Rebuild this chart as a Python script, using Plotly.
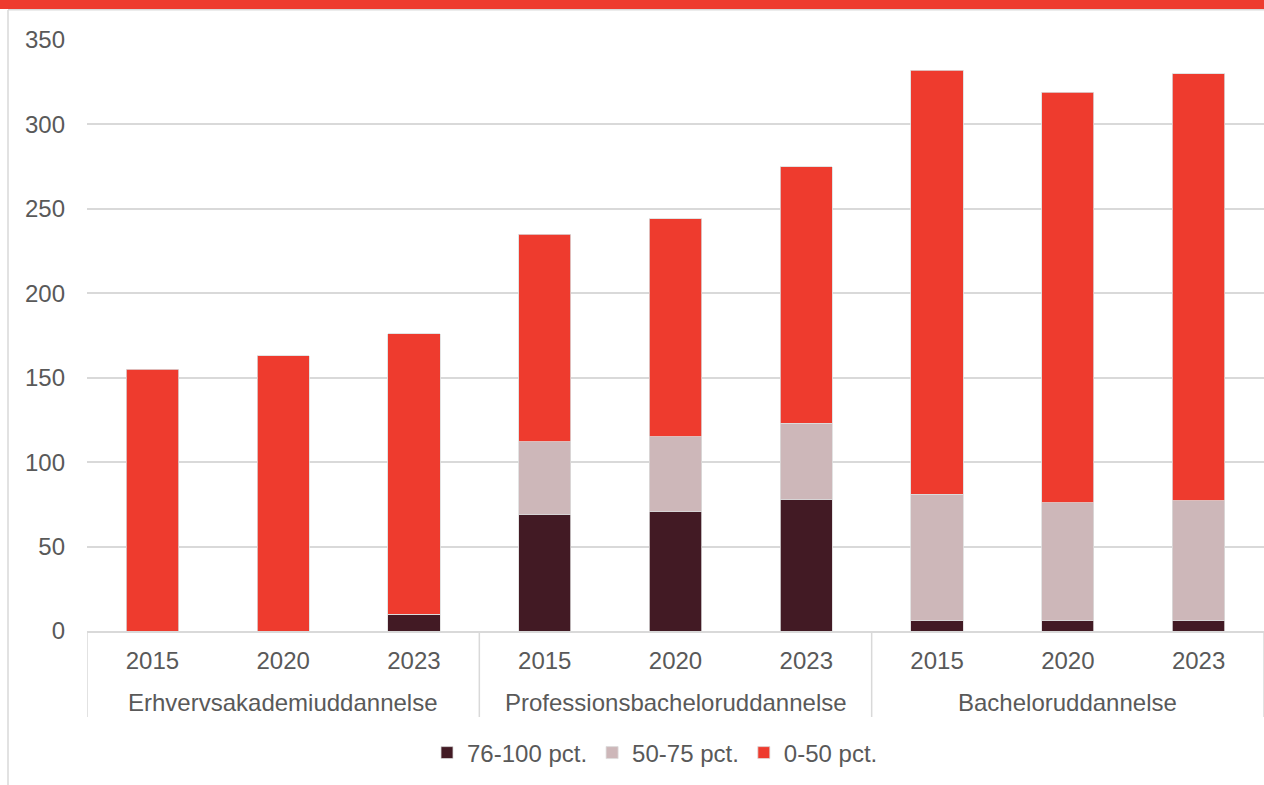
import plotly.graph_objects as go

groups = ["Erhvervsakademiuddannelse", "Professionsbacheloruddannelse", "Bacheloruddannelse"]
years = ["2015", "2020", "2023"]
series_names = ["76-100 pct.", "50-75 pct.", "0-50 pct."]
v_76_100 = [0, 0, 10, 69, 71, 78, 6, 6, 6]
v_50_75 = [0, 0, 0, 43, 44, 45, 75, 70, 71]
v_0_50 = [155, 163, 166, 123, 129, 152, 251, 243, 253]
colors = ["#421A24", "#CDB7B9", "#EE3B2E"]

W, H = 1264, 785
L, R, T, B = 87, 0, 40, 154
pw, ph = W - L - R, H - T - B
FS = 24

n = len(groups) * len(years)
xpos = list(range(n))
ticktext = [y for g in groups for y in years]

fig = go.Figure()
for name, vals, col in zip(series_names, [v_76_100, v_50_75, v_0_50], colors):
    fig.add_trace(go.Bar(x=xpos, y=vals, name=name, width=0.4,
                         marker=dict(color=col, line=dict(color="#DCDCDC", width=0.8))))

font = "Liberation Sans, Arial, sans-serif"
txt = "#595959"

def py(pix):
    return (T + ph - pix) / ph

def px(pix):
    return (pix - L) / pw

shapes = []
# top red band
shapes.append(dict(type="rect", xref="paper", yref="paper", x0=px(-2), x1=px(W + 5),
                   y0=py(9), y1=py(-2), fillcolor="#EE3B2E", line=dict(width=0), layer="above"))
# chart border
shapes.append(dict(type="line", xref="paper", yref="paper", x0=px(8), x1=px(8),
                   y0=py(10), y1=py(H + 5), line=dict(color="#D9D9D9", width=1.5)))
shapes.append(dict(type="line", xref="paper", yref="paper", x0=px(8), x1=px(W + 5),
                   y0=py(9.8), y1=py(9.8), line=dict(color="#D9D9D9", width=1.5)))
# group dividers
for k in range(len(groups) + 1):
    xv = k * len(years) - 0.5
    shapes.append(dict(type="line", xref="x", yref="paper", x0=xv, x1=xv,
                       y0=0, y1=py(717), line=dict(color="#D9D9D9", width=1.5)))

annotations = []
for i, g in enumerate(groups):
    annotations.append(dict(x=i * len(years) + 1, xref="x", y=py(702), yref="paper",
                            text=g, showarrow=False, yanchor="middle", xanchor="center",
                            font=dict(family=font, size=FS, color=txt)))

fig.update_layout(
    width=W, height=H,
    margin=dict(l=L, r=R, t=T, b=B, pad=0),
    barmode="stack",
    paper_bgcolor="white", plot_bgcolor="white",
    font=dict(family=font, size=FS, color=txt),
    shapes=shapes, annotations=annotations,
    showlegend=True,
    legend=dict(orientation="h", x=px(655), xanchor="center", y=py(753), yanchor="middle",
                font=dict(family=font, size=FS, color=txt), traceorder="normal",
                itemclick=False, itemdoubleclick=False),
    xaxis=dict(range=[-0.5, n - 0.5], tickmode="array", tickvals=xpos, ticktext=ticktext,
               showgrid=False, zeroline=False, showline=True, linecolor="#D9D9D9", linewidth=1.5,
               ticks="", ticklabelstandoff=7, tickfont=dict(family=font, size=FS, color=txt)),
    yaxis=dict(range=[0, 350], dtick=50, tick0=0, showgrid=True, gridcolor="#D9D9D9", gridwidth=1.5,
               zeroline=False, showline=False, ticks="", ticklabelstandoff=21,
               tickfont=dict(family=font, size=FS, color=txt)),
)

fig.write_html("out.html", config={"displayModeBar": False},
               post_script="document.body.style.margin='0';document.body.style.overflow='hidden';")
